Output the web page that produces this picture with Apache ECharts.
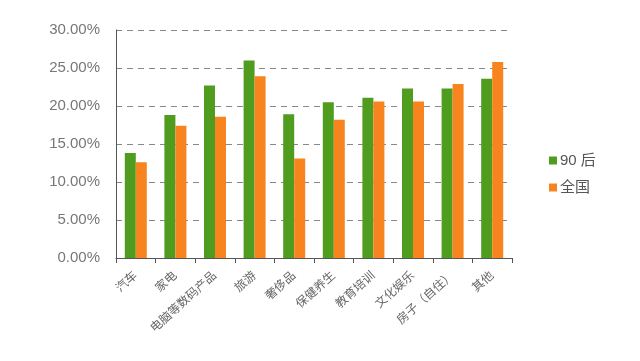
<!DOCTYPE html>
<html><head><meta charset="utf-8">
<script src="https://cdn.jsdelivr.net/npm/echarts@6/dist/echarts.min.js"></script>
<style>html,body{margin:0;padding:0;background:#fff}#c{width:640px;height:361px}</style>
</head><body><div id="c"></div>
<script>
const categories = ['汽车','家电','电脑等数码产品','旅游','奢侈品','保健养生','教育培训','文化娱乐','房子（自住）','其他'];
const gen90 = [13.8, 18.8, 22.7, 26.0, 18.9, 20.5, 21.1, 22.3, 22.3, 23.6];
const national = [12.6, 17.4, 18.6, 23.9, 13.1, 18.2, 20.6, 20.6, 22.9, 25.8];
const seriesNames = ['90 后', '全国'];
const yTicks = [0, 5, 10, 15, 20, 25, 30];

const chart = echarts.init(document.getElementById('c'));
const font = '"Helvetica Neue", "Liberation Sans", "Noto Sans CJK SC", sans-serif';
chart.setOption({
  animation: false,
  textStyle: { fontFamily: font },
  grid: { left: 116, right: 128, top: 30, bottom: 103 },
  legend: {
    orient: 'vertical', left: 544, top: 148,
    itemWidth: 8, itemHeight: 8, itemGap: 12, icon: 'rect',
    textStyle: { fontSize: 15, color: '#555', fontFamily: font, padding: [0, 0, 0, -2] },
    data: seriesNames
  },
  xAxis: {
    type: 'category', data: categories,
    axisLine: { lineStyle: { color: '#555', width: 1 } },
    axisTick: { show: true, length: 5, inside: false, lineStyle: { color: '#555' } },
    axisLabel: { rotate: 42, fontSize: 12, color: '#666', margin: 16, interval: 0 }
  },
  yAxis: {
    type: 'value', min: 0, max: 30, interval: 5,
    axisLine: { show: true, lineStyle: { color: '#555', width: 1 } },
    axisTick: { show: false },
    splitLine: { lineStyle: { color: '#888', type: [6, 5], width: 1 } },
    axisLabel: { fontSize: 15, color: '#777', margin: 16,
      formatter: v => yTicks.includes(v) ? v.toFixed(2) + '%' : '' }
  },
  series: [
    { name: seriesNames[0], type: 'bar', data: gen90, barWidth: 11, barGap: '0%',
      itemStyle: { color: '#4f9c1f' } },
    { name: seriesNames[1], type: 'bar', data: national, barWidth: 11, barGap: '0%',
      itemStyle: { color: '#f8841f' } }
  ]
});
</script></body></html>
